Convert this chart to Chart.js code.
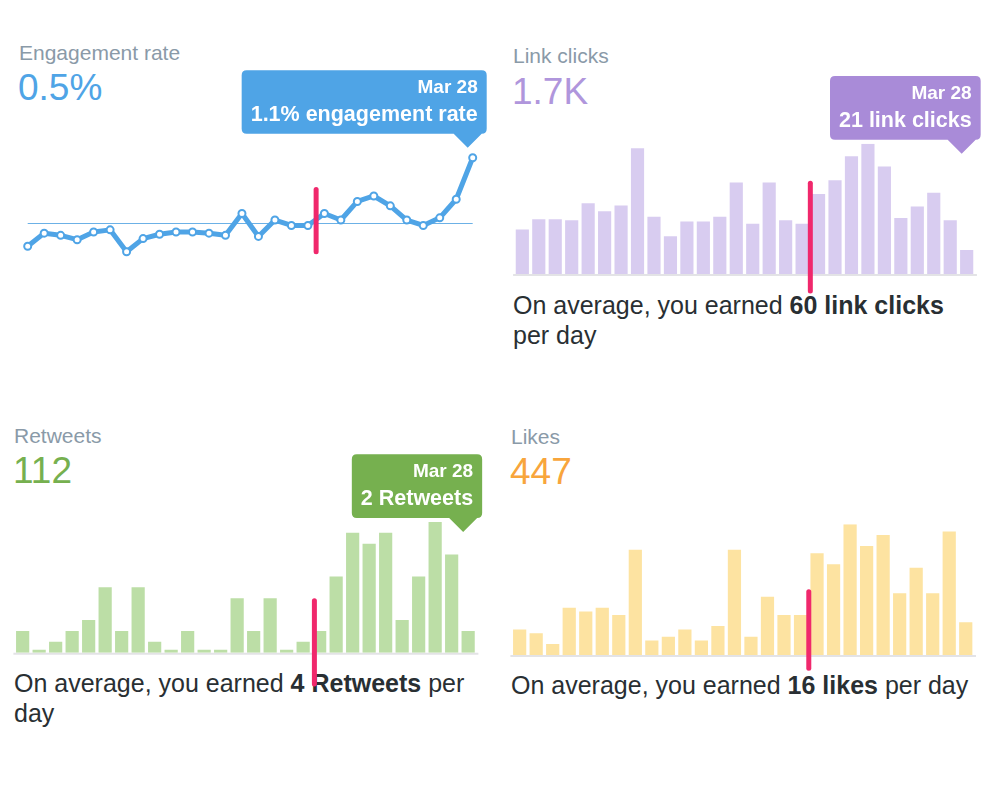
<!DOCTYPE html>
<html>
<head>
<meta charset="utf-8">
<script src="https://cdn.jsdelivr.net/npm/chart.js@4.4.1/dist/chart.umd.min.js"></script>
<style>
  body { margin: 0; background: #fff; font-family: "Helvetica Neue", "Liberation Sans", Arial, sans-serif; }
  #page { position: relative; width: 1000px; height: 800px; overflow: hidden; }
  .label { position: absolute; font-size: 21px; line-height: 24px; color: #8a9aa8; white-space: nowrap; }
  .value { position: absolute; font-size: 37px; line-height: 40px; font-weight: 300; white-space: nowrap; }
  .note { position: absolute; width: 465px; font-size: 25px; line-height: 30px; color: #292f33; }
  .note b { font-weight: bold; }
  .box { position: absolute; z-index: 2; }
</style>
</head>
<body>
<div id="page">
  <div class="label" style="left:19px;top:41px">Engagement rate</div>
  <div class="value" style="left:18px;top:68px;color:#4fa4e6">0.5%</div>

  <div class="label" style="left:513px;top:44px">Link clicks</div>
  <div class="value" style="left:512px;top:72px;color:#b096dc">1.7K</div>
  <div class="note" style="left:513px;top:290px">On average, you earned <b>60 link clicks</b> per day</div>

  <div class="label" style="left:14px;top:424px">Retweets</div>
  <div class="value" style="left:13px;top:451px;color:#76b04f">112</div>
  <div class="note" style="left:14px;top:668px">On average, you earned <b>4 Retweets</b> per day</div>

  <div class="label" style="left:511px;top:425px">Likes</div>
  <div class="value" style="left:510px;top:452px;color:#f8a53c">447</div>
  <div class="note" style="left:511px;top:670px">On average, you earned <b>16 likes</b> per day</div>

  <div class="box" style="left:0;top:60px;width:500px;height:210px"><canvas id="rateChart"></canvas></div>
  <div class="box" style="left:500px;top:60px;width:500px;height:250px"><canvas id="clickChart"></canvas></div>
  <div class="box" style="left:0;top:440px;width:500px;height:260px"><canvas id="retweetChart"></canvas></div>
  <div class="box" style="left:500px;top:440px;width:500px;height:260px"><canvas id="likeChart"></canvas></div>
</div>

<script>
// ---------- data ----------
const days = ['Mar 1', 'Mar 2', 'Mar 3', 'Mar 4', 'Mar 5', 'Mar 6', 'Mar 7', 'Mar 8', 'Mar 9', 'Mar 10',
  'Mar 11', 'Mar 12', 'Mar 13', 'Mar 14', 'Mar 15', 'Mar 16', 'Mar 17', 'Mar 18', 'Mar 19', 'Mar 20',
  'Mar 21', 'Mar 22', 'Mar 23', 'Mar 24', 'Mar 25', 'Mar 26', 'Mar 27', 'Mar 28'];
const engagementRate = [0.29, 0.41, 0.39, 0.35, 0.42, 0.44, 0.24, 0.36, 0.40, 0.42, 0.42, 0.41, 0.39, 0.59,
  0.38, 0.53, 0.48, 0.48, 0.59, 0.53, 0.70, 0.75, 0.66, 0.53, 0.48, 0.55, 0.72, 1.10];
const avgEngagement = 0.5;
const linkClicks = [39, 48, 48, 47, 62, 55, 60, 110, 50, 33, 46, 46, 50, 80, 44, 80, 47, 44, 70, 82,
  103, 114, 94, 49, 59, 71, 47, 21];
const retweets = [2, 0, 1, 2, 3, 6, 2, 6, 1, 0, 2, 0, 0, 5, 2, 5, 0, 1, 2, 7, 11, 10, 11, 3, 7, 12, 9, 2];
const likes = [7, 6, 3, 13, 12, 13, 11, 29, 4, 5, 7, 4, 8, 29, 5, 16, 11, 11, 28, 25, 36, 30, 33, 17, 24,
  17, 34, 9];
// the pink "today" marker sits between Mar 18 and Mar 19
const markerAt = 17.5;

// ---------- tooltip anchors ----------
Chart.Tooltip.positioners.abovePoint = function (items) {
  if (!items.length) return false;
  const el = items[0].element;
  return { x: el.x - 5, y: el.y - 10 };
};
Chart.Tooltip.positioners.chartTop = function (items) {
  if (!items.length) return false;
  const el = items[0].element;
  return { x: el.x - 5, y: this.chart.chartArea.top + 10 };
};

// ---------- average line, axis line and pink marker ----------
const overlay = {
  id: 'overlay',
  beforeDatasetsDraw(chart, args, opts) {
    const { ctx, chartArea, scales: { y } } = chart;
    ctx.save();
    if (opts.avg !== undefined) {
      const py = Math.round(y.getPixelForValue(opts.avg)) + 0.5;
      ctx.strokeStyle = opts.avgColor;
      ctx.lineWidth = 1;
      ctx.beginPath();
      ctx.moveTo(chartArea.left, py);
      ctx.lineTo(chartArea.right, py);
      ctx.stroke();
    }
    if (opts.axis) {
      const py = y.getPixelForValue(0) + 1;
      ctx.strokeStyle = '#e3e3e6';
      ctx.lineWidth = 2;
      ctx.beginPath();
      ctx.moveTo(chartArea.left - 1, py);
      ctx.lineTo(chartArea.right + 2, py);
      ctx.stroke();
    }
    ctx.restore();
  },
  afterDatasetsDraw(chart, args, opts) {
    if (!opts.marker) return;
    const { ctx, scales: { x, y } } = chart;
    const px = x.getPixelForValue(markerAt) + (opts.shift || 0);
    ctx.save();
    ctx.strokeStyle = '#f0286c';
    ctx.lineWidth = 5;
    ctx.lineCap = 'round';
    ctx.beginPath();
    ctx.moveTo(px, y.getPixelForValue(opts.marker[0]));
    ctx.lineTo(px, y.getPixelForValue(opts.marker[1]));
    ctx.stroke();
    ctx.restore();
  }
};

function calloutOptions(bg, position, unit) {
  return {
    enabled: true,
    position: position,
    backgroundColor: bg,
    titleColor: '#fff',
    bodyColor: '#fff',
    titleFont: { family: '"Helvetica Neue", "Liberation Sans", Arial', size: 19, weight: 'bold' },
    bodyFont: { family: '"Helvetica Neue", "Liberation Sans", Arial', size: 21.5, weight: 'bold' },
    titleAlign: 'right',
    bodyAlign: 'right',
    titleMarginBottom: 3,
    padding: { top: 6, bottom: 6, left: 9, right: 9 },
    displayColors: false,
    xAlign: 'right',
    yAlign: 'bottom',
    caretSize: 14,
    caretPadding: 0,
    cornerRadius: 5,
    callbacks: {
      title: (items) => items[0].label,
      label: unit
    }
  };
}

function baseOptions(padding) {
  return {
    responsive: true,
    maintainAspectRatio: false,
    animation: false,
    events: [],
    layout: { padding: padding },
    scales: {
      x: { display: false },
      y: { display: false }
    }
  };
}

function showLast(chart) {
  chart.tooltip.setActiveElements([{ datasetIndex: 0, index: days.length - 1 }], { x: 0, y: 0 });
  chart.update();
}

// ---------- Engagement rate (line) ----------
const rateOpts = baseOptions({ left: 27.7, right: 27.3, top: 86.8, bottom: 13.9 });
rateOpts.scales.y.min = 0.2;
rateOpts.scales.y.max = 1.2;
rateOpts.plugins = {
  legend: { display: false },
  tooltip: calloutOptions('#4fa4e6', 'abovePoint', (c) => c.parsed.y.toFixed(1) + '% engagement rate'),
  overlay: { avg: avgEngagement, avgColor: '#6cb1e6', marker: [0.81, 0.24] }
};
const rateChart = new Chart(document.getElementById('rateChart'), {
  type: 'line',
  data: {
    labels: days,
    datasets: [{
      data: engagementRate,
      borderColor: '#4fa4e6',
      borderWidth: 5,
      borderJoinStyle: 'round',
      tension: 0,
      pointRadius: 3.5,
      pointBorderWidth: 2,
      pointBackgroundColor: '#fff',
      pointBorderColor: '#4fa4e6',
      clip: false
    }]
  },
  options: rateOpts,
  plugins: [overlay]
});
showLast(rateChart);

// ---------- bar panels ----------
function barChart(id, values, barColor, padding, marker, tooltip) {
  const opts = baseOptions(padding);
  opts.scales.y.min = 0;
  opts.scales.y.max = Math.max(...values);
  opts.plugins = {
    legend: { display: false },
    tooltip: tooltip || { enabled: false },
    overlay: { axis: true, marker: marker.slice(0, 2), shift: marker[2] }
  };
  const chart = new Chart(document.getElementById(id), {
    type: 'bar',
    data: {
      labels: days,
      datasets: [{
        data: values,
        backgroundColor: barColor,
        barPercentage: 0.8,
        categoryPercentage: 1,
        minBarLength: 3
      }]
    },
    options: opts,
    plugins: [overlay]
  });
  if (tooltip) showLast(chart);
  return chart;
}

barChart('clickChart', linkClicks, '#d8ccf0',
  { left: 14.1, right: 25.1, top: 83.7, bottom: 36 }, [79.4, -14.9, 0],
  calloutOptions('#a98bd8', 'chartTop', (c) => c.parsed.y + ' link clicks'));

barChart('retweetChart', retweets, '#bcdea6',
  { left: 14.4, right: 23.6, top: 81.9, bottom: 47.3 }, [4.77, -2.87, 3],
  calloutOptions('#76b04f', 'chartTop', (c) => c.parsed.y + ' Retweets'));

barChart('likeChart', likes, '#fde3a1',
  { left: 11.4, right: 26, top: 84.2, bottom: 45 }, [17.4, -3.66, 0], null);
</script>
</body>
</html>
